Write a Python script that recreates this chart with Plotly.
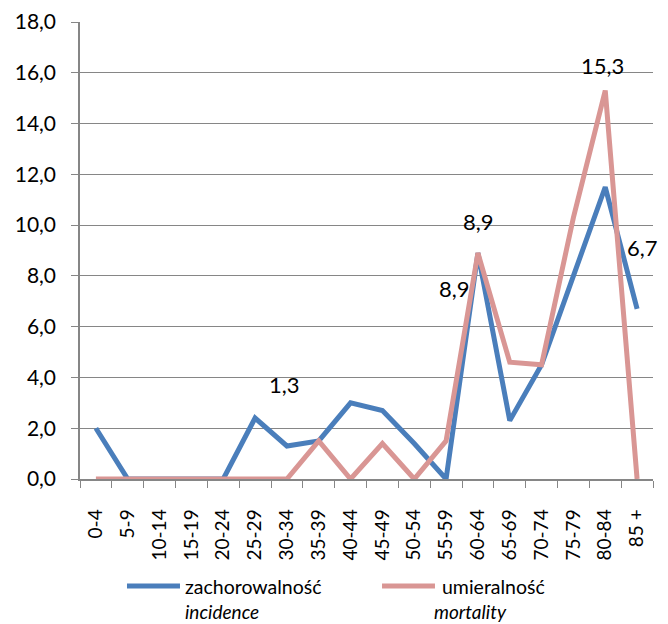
import plotly.graph_objects as go

categories = ["0-4", "5-9", "10-14", "15-19", "20-24", "25-29", "30-34", "35-39",
              "40-44", "45-49", "50-54", "55-59", "60-64", "65-69", "70-74",
              "75-79", "80-84", "85 +"]
incidence = [2.0, 0.0, 0.0, 0.0, 0.0, 2.4, 1.3, 1.5, 3.0, 2.7, 1.4, 0.0,
             8.9, 2.3, 4.5, 8.0, 11.5, 6.7]
mortality = [0.0, 0.0, 0.0, 0.0, 0.0, 0.0, 0.0, 1.5, 0.0, 1.4, 0.0, 1.5,
             8.9, 4.6, 4.5, 10.3, 15.3, 0.0]
y_ticks = [0, 2, 4, 6, 8, 10, 12, 14, 16, 18]
legend_names = ["zachorowalność", "umieralność"]
legend_sub = ["incidence", "mortality"]

FONT = "Lato"
BLUE = "#4A7EBB"
PINK = "#D99694"
GRID = "#868686"

fig = go.Figure()
fig.add_trace(go.Scatter(x=categories, y=incidence, mode="lines",
                         name=legend_names[0],
                         line=dict(color=BLUE, width=5)))
fig.add_trace(go.Scatter(x=categories, y=mortality, mode="lines",
                         name=legend_names[1],
                         line=dict(color=PINK, width=5)))

def fmt(v):
    return f"{v:.1f}".replace(".", ",")

# data labels: (series, index, xshift, yshift)
labels = [(incidence, 6, -2, 61), (mortality, 12, 1, 32), (incidence, 12, -23, -35),
          (mortality, 16, -3, 25), (incidence, 17, 5, 61)]
for series, i, dx, dy in labels:
    fig.add_annotation(x=categories[i], y=series[i], text=fmt(series[i]),
                       showarrow=False, xshift=dx, yshift=dy,
                       font=dict(family=FONT, size=22, color="black"))

# manual legend (paper coordinates)
legend_items = [
    dict(color=BLUE, x0=0.0820, x1=0.1745, tx=0.1798, sx=0.1798),
    dict(color=PINK, x0=0.5271, x1=0.6195, tx=0.6283, sx=0.6143),
]
for k, item in enumerate(legend_items):
    fig.add_shape(type="line", xref="paper", yref="paper",
                  x0=item["x0"], x1=item["x1"], y0=-0.2341, y1=-0.2341,
                  line=dict(color=item["color"], width=5))
    fig.add_annotation(xref="paper", yref="paper", x=item["tx"], y=-0.2363,
                       text=legend_names[k], showarrow=False,
                       xanchor="left", yanchor="middle",
                       font=dict(family=FONT, size=19.5, color="black"))
    fig.add_annotation(xref="paper", yref="paper", x=item["sx"], y=-0.2895,
                       text=f"<i>{legend_sub[k]}</i>", showarrow=False,
                       xanchor="left", yanchor="middle",
                       font=dict(family=FONT, size=19, color="black"))

fig.update_layout(
    width=660, height=616,
    margin=dict(l=72, r=15, t=14, b=145, autoexpand=False),
    paper_bgcolor="white", plot_bgcolor="white",
    separators=",.",
    font=dict(family=FONT, size=18, color="black"),
    showlegend=False,
    xaxis=dict(type="category", tickangle=-90, showgrid=False, automargin=False,
               showline=True, linecolor=GRID, linewidth=1.5,
               ticks="outside", tickson="boundaries", ticklen=7,
               tickcolor=GRID, tickfont=dict(size=19), ticklabelstandoff=21,
               range=[-0.5, 17.5]),
    yaxis=dict(range=[0, 18], tickvals=y_ticks, tickformat=".1f", automargin=False,
               showgrid=True, gridcolor=GRID, gridwidth=1,
               showline=True, linecolor=GRID, linewidth=1.5,
               ticks="outside", ticklen=7, tickcolor=GRID,
               zeroline=False, tickfont=dict(size=21), ticklabelstandoff=11),
)

fig.write_html("out.html")
